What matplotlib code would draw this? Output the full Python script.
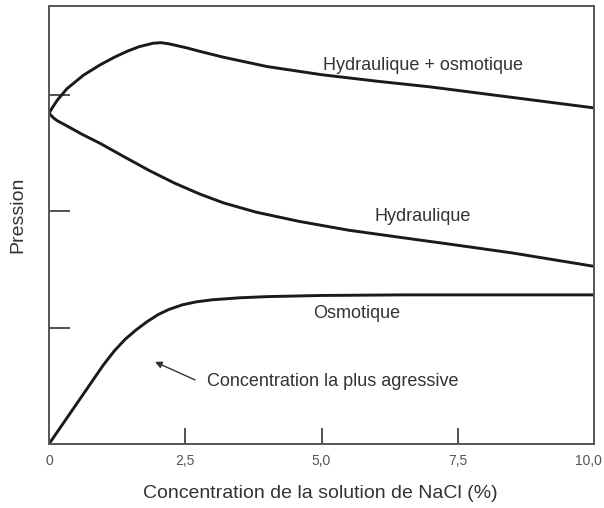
import matplotlib
matplotlib.use("Agg")
import matplotlib.pyplot as plt

plt.rcParams['font.family'] = ['Liberation Sans', 'DejaVu Sans']

# NaCl concentration (%) and pressure (arbitrary units)
hyd_osm_x = [0, 0.08, 0.15, 0.33, 0.63, 0.94, 1.2, 1.43, 1.65, 1.91, 2.05, 2.2, 2.53, 2.77, 3.2, 4.0, 5.0, 6.0, 7.0, 8.0, 9.0, 10.0]
hyd_osm_y = [2.84, 2.90, 2.95, 3.05, 3.165, 3.255, 3.32, 3.37, 3.41, 3.44, 3.445, 3.435, 3.40, 3.37, 3.32, 3.24, 3.17, 3.115, 3.065, 3.005, 2.945, 2.885]

hyd_x = [0, 0.08, 0.15, 0.33, 0.6, 0.94, 1.4, 1.85, 2.3, 2.77, 3.2, 3.8, 4.6, 5.5, 6.5, 7.36, 8.5, 10.0]
hyd_y = [2.84, 2.80, 2.775, 2.73, 2.66, 2.58, 2.46, 2.345, 2.24, 2.145, 2.07, 1.99, 1.91, 1.835, 1.77, 1.715, 1.64, 1.525]

osm_x = [0, 0.5, 1.0, 1.2, 1.4, 1.6, 1.8, 2.0, 2.2, 2.45, 2.7, 3.0, 3.5, 4.0, 5.0, 6.5, 8.0, 10.0]
osm_y = [0.0, 0.34, 0.68, 0.80, 0.90, 0.98, 1.05, 1.11, 1.155, 1.195, 1.22, 1.238, 1.255, 1.265, 1.275, 1.28, 1.28, 1.28]

xticks = [2.5, 5.0, 7.5]
xlabels_pos = [0, 2.5, 5.0, 7.5]
xlabels_txt = ["0", "2,5", "5,0", "7,5"]
xlabel_last = "10,0"
yticks = [1, 2, 3]

fig = plt.figure(figsize=(6.04, 5.08), dpi=100)
ax = fig.add_axes([49/604, 1 - 444/508, (594-49)/604, (444-6)/508])

lw = 2.1
lc = '#1a1a1a'
for xs, ys in [(hyd_osm_x, hyd_osm_y), (hyd_x, hyd_y), (osm_x, osm_y)]:
    ax.plot(xs, ys, color=lc, lw=lw, solid_joinstyle='round', solid_capstyle='round')

ax.set_xlim(0, 10)
ax.set_ylim(0, (444-6)/116.5)
ax.set_xticks(xticks)
ax.set_xticklabels([])
ax.set_yticks(yticks)
ax.set_yticklabels([])
ax.tick_params(axis='x', direction='in', length=11.5, width=1.2, color='#333333')
ax.tick_params(axis='y', direction='in', length=15, width=1.2, color='#333333')
for s in ax.spines.values():
    s.set_color('#555555')
    s.set_linewidth(1.4)

tc = '#333333'
for x, lab in zip(xlabels_pos, xlabels_txt):
    ax.text(x, -17/438, lab, ha='center', va='center', fontsize=10, color='#555555',
            transform=ax.get_xaxis_transform())
fig.text(602/604, 1 - 461/508, xlabel_last, ha='right', va='center', fontsize=10, color='#555555')

ax.text(6.86, 3.253, "Hydraulique + osmotique", ha='center', va='center', fontsize=13, color=tc)
ax.text(6.86, 1.95, "Hydraulique", ha='center', va='center', fontsize=13, color=tc)
ax.text(4.85, 1.12, "Osmotique", ha='left', va='center', fontsize=13, color=tc)
ax.annotate("", xy=(1.945, 0.705), xytext=(2.68, 0.55),
            arrowprops=dict(arrowstyle='-|>', color='#333333', lw=1.0, mutation_scale=10,
                            shrinkA=0, shrinkB=0))
ax.text(2.90, 0.54, "Concentration la plus agressive", ha='left', va='center', fontsize=13, color=tc)

fig.text(320/604, 1 - 493/508, "Concentration de la solution de NaCl (%)", ha='center', va='center',
         fontsize=14, color=tc)
fig.text(18/604, 1 - 215/508, "Pression", ha='center', va='center', rotation=90,
         fontsize=14, color=tc)

fig.savefig("out.png", dpi=100)
